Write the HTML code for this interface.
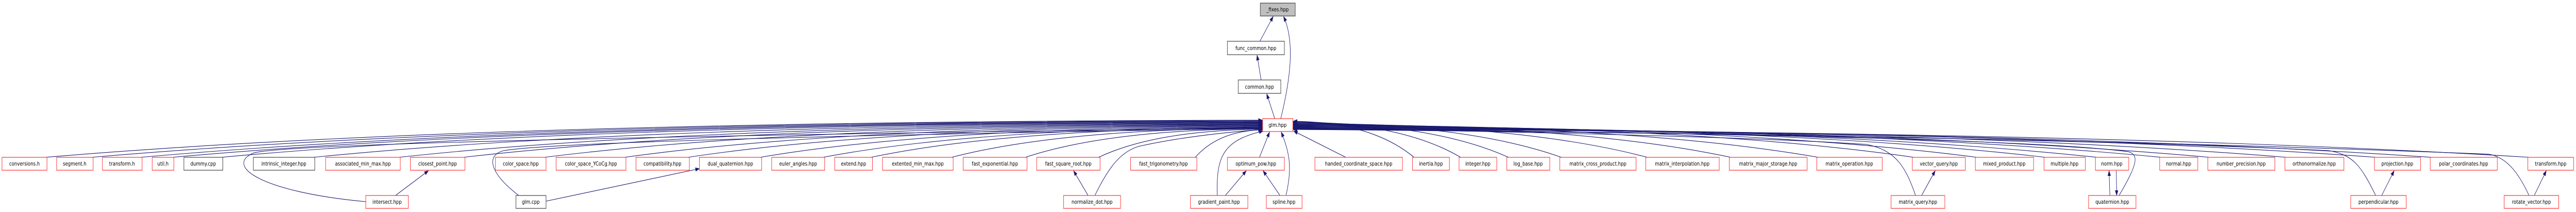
<!DOCTYPE html>
<html><head><meta charset="utf-8"><style>
html,body{margin:0;padding:0;background:#fff;width:100%;height:100%;overflow:hidden;}
svg{display:block;width:100vw;height:100vh;}
text{font-family:"DejaVu Sans","Liberation Sans",sans-serif;font-size:11px;fill:#000;}
</style></head><body>
<svg id="s" viewBox="0 0 6416 411" preserveAspectRatio="none" xmlns="http://www.w3.org/2000/svg" overflow="hidden">
<defs><marker id="a" markerWidth="11" markerHeight="8" refX="10" refY="4" orient="auto" markerUnits="userSpaceOnUse"><path d="M0,0 L11,4 L0,8 z" fill="#191970"/></marker></defs>
<g id="edges" fill="none" stroke="#191970" stroke-width="1.1"></g>
<g id="nodes" text-anchor="middle">
<g fill="#fff" stroke="#ff3030" stroke-width="1.2">
<rect x="5" y="305" width="112" height="25"/><rect x="141" y="305" width="91" height="25"/><rect x="255" y="305" width="99" height="25"/><rect x="379" y="305" width="54" height="25"/>
<rect x="811" y="305" width="186" height="25"/><rect x="1022" y="305" width="136" height="25"/><rect x="1234" y="305" width="126" height="25"/><rect x="1385" y="305" width="174" height="25"/><rect x="1584" y="305" width="133" height="25"/><rect x="1742" y="305" width="155" height="25"/><rect x="1922" y="305" width="132" height="25"/><rect x="2079" y="305" width="94" height="25"/><rect x="2198" y="305" width="176" height="25"/><rect x="2399" y="305" width="159" height="25"/><rect x="2582" y="305" width="158" height="25"/><rect x="2816" y="305" width="165" height="25"/><rect x="3057" y="305" width="142" height="25"/><rect x="3275" y="305" width="218" height="25"/><rect x="3518" y="305" width="92" height="25"/><rect x="3634" y="305" width="94" height="25"/><rect x="3753" y="305" width="107" height="25"/><rect x="3885" y="305" width="190" height="25"/><rect x="4099" y="305" width="183" height="25"/><rect x="4307" y="305" width="194" height="25"/><rect x="4525" y="305" width="163" height="25"/><rect x="4763" y="305" width="132" height="25"/><rect x="4920" y="305" width="145" height="25"/><rect x="5091" y="305" width="103" height="25"/><rect x="5219" y="305" width="83" height="25"/><rect x="5379" y="305" width="95" height="25"/><rect x="5499" y="305" width="167" height="25"/><rect x="5691" y="305" width="147" height="25"/><rect x="5914" y="305" width="115" height="25"/><rect x="6053" y="305" width="167" height="25"/><rect x="6296" y="305" width="114" height="25"/>
<rect x="911" y="379" width="106" height="25"/><rect x="2649" y="379" width="142" height="25"/><rect x="2965" y="379" width="143" height="25"/><rect x="3154" y="379" width="89" height="25"/><rect x="4710" y="379" width="134" height="25"/><rect x="5202" y="379" width="118" height="25"/><rect x="5855" y="379" width="138" height="25"/><rect x="6237" y="379" width="136" height="25"/>
<rect x="3145" y="230" width="75" height="25"/>
</g>
<g fill="#fff" stroke="#404040" stroke-width="1.2">
<rect x="458" y="305" width="97" height="25"/><rect x="631" y="305" width="153" height="25"/><rect x="1285" y="379" width="75" height="25"/><rect x="3057" y="80" width="142" height="26"/><rect x="3084" y="155" width="106" height="26"/>
<rect x="3139" y="6" width="87" height="25" fill="#bfbfbf"/>
</g>
<text x="61" y="321">conversions.h</text><text x="186" y="321">segment.h</text><text x="304" y="321">transform.h</text><text x="406" y="321">util.h</text><text x="506" y="321">dummy.cpp</text><text x="707" y="321">intrinsic_integer.hpp</text><text x="904" y="321">associated_min_max.hpp</text><text x="1090" y="321">closest_point.hpp</text><text x="1297" y="321">color_space.hpp</text><text x="1472" y="321">color_space_YCoCg.hpp</text><text x="1650" y="321">compatibility.hpp</text><text x="1819" y="321">dual_quaternion.hpp</text><text x="1988" y="321">euler_angles.hpp</text><text x="2126" y="321">extend.hpp</text><text x="2286" y="321">extented_min_max.hpp</text><text x="2478" y="321">fast_exponential.hpp</text><text x="2661" y="321">fast_square_root.hpp</text><text x="2898" y="321">fast_trigonometry.hpp</text><text x="3128" y="321">optimum_pow.hpp</text><text x="3384" y="321">handed_coordinate_space.hpp</text><text x="3564" y="321">inertia.hpp</text><text x="3681" y="321">integer.hpp</text><text x="3806" y="321">log_base.hpp</text><text x="3980" y="321">matrix_cross_product.hpp</text><text x="4190" y="321">matrix_interpolation.hpp</text><text x="4404" y="321">matrix_major_storage.hpp</text><text x="4606" y="321">matrix_operation.hpp</text><text x="4829" y="321">vector_query.hpp</text><text x="4992" y="321">mixed_product.hpp</text><text x="5142" y="321">multiple.hpp</text><text x="5260" y="321">norm.hpp</text><text x="5426" y="321">normal.hpp</text><text x="5582" y="321">number_precision.hpp</text><text x="5764" y="321">orthonormalize.hpp</text><text x="5971" y="321">projection.hpp</text><text x="6136" y="321">polar_coordinates.hpp</text><text x="6353" y="321">transform.hpp</text>
<text x="964" y="395">intersect.hpp</text><text x="1322" y="395">glm.cpp</text><text x="2720" y="395">normalize_dot.hpp</text><text x="3036" y="395">gradient_paint.hpp</text><text x="3198" y="395">spline.hpp</text><text x="4777" y="395">matrix_query.hpp</text><text x="5261" y="395">quaternion.hpp</text><text x="5924" y="395">perpendicular.hpp</text><text x="6305" y="395">rotate_vector.hpp</text>
<text x="3182" y="246">glm.hpp</text><text x="3128" y="97">func_common.hpp</text><text x="3137" y="172">common.hpp</text><text x="3182" y="22">_fixes.hpp</text>
</g>
</svg>
<script>
var g=document.getElementById('edges');
function P(d){var p=document.createElementNS('http://www.w3.org/2000/svg','path');p.setAttribute('d',d);p.setAttribute('marker-end','url(#a)');g.appendChild(p);}
var L=[[5,117],[141,232],[255,354],[379,433],[458,555],[631,784],[811,997],[1022,1158],[1234,1360],[1385,1559],[1584,1717],[1742,1897],[1922,2054],[2079,2173],[2198,2374],[2399,2558],[2582,2740],[2816,2981]];
var R=[[3518,3610],[3634,3728],[3753,3860],[3885,4075],[4099,4282],[4307,4501],[4525,4688],[4763,4895],[4920,5065],[5091,5194],[5219,5302],[5379,5474],[5499,5666],[5691,5838],[5914,6029],[6053,6220],[6296,6410]];
L.forEach(function(n,i){var sx=n[1]-4,ey=233+i*1.1,dx=3144-sx;P('M'+sx+',305 Q'+(sx+dx*0.35)+','+(ey+2)+' 3144,'+ey);});
R.forEach(function(n,i){var sx=n[0]+4,ey=235+i*1.0,dx=sx-3221;P('M'+sx+',305 Q'+(sx-dx*0.35)+','+(ey+2)+' 3221,'+ey);});
P('M3137,305 L3162,256');P('M3352,305 L3222,254');
P('M985,379 L1067,331');P('M911,391 C650,372 560,322 630,297 Q720,272 3144,248');
P('M1360,390 L1742,327');P('M1292,379 C1215,333 1212,300 1255,292 Q1420,270 3144,249');
P('M2710,379 L2674,331');P('M2727,379 C2765,318 2795,294 2835,284 Q2960,262 3144,251');
P('M3052,379 L3104,331');P('M3032,379 C3028,300 3050,272 3146,254');
P('M3188,379 L3146,331');P('M3203,379 C3217,330 3215,300 3191,256');
P('M4786,379 L4820,331');P('M4771,379 C4745,320 4720,292 4650,280 Q4300,262 3221,248');
P('M5255,379 L5253,331');P('M5271,331 L5272,379');P('M5278,379 C5322,320 5330,300 5300,294 Q5000,263 3221,249');
P('M5932,379 L5963,331');P('M5917,379 C5880,320 5860,300 5800,292 Q5000,263 3221,250');
P('M6312,379 L6342,331');P('M6299,379 C6270,330 6240,305 6200,299 Q5000,262 3221,251');
P('M3138,80 L3171,32');P('M3141,155 L3131,107');P('M3175,230 L3155,182');P('M3190,230 C3215,150 3225,80 3197,32');
</script>
</body></html>
